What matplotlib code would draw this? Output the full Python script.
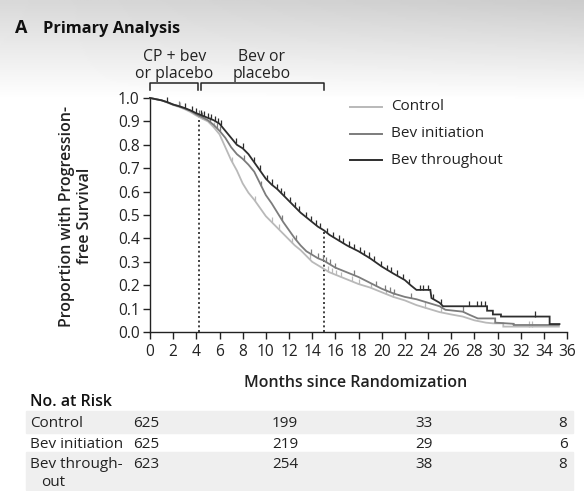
import numpy as np
import matplotlib
matplotlib.use("Agg")
import matplotlib.pyplot as plt
from matplotlib import transforms
from matplotlib.transforms import offset_copy
from matplotlib.lines import Line2D
from matplotlib.patches import Rectangle

# ---------------- data ----------------
groups = ["Control", "Bev initiation", "Bev throughout"]
month_ticks = list(range(0, 37, 2))
y_ticks = [0.0, 0.1, 0.2, 0.3, 0.4, 0.5, 0.6, 0.7, 0.8, 0.9, 1.0]

# Kaplan-Meier curves (repeated time = vertical drop)
control_t = [0, 0.5, 1, 1.5, 2, 2.5, 3, 3.5, 4, 4.5, 5, 5.5, 6, 6.5, 7, 7.5, 8, 8.5, 9, 9.5,
             10, 10.5, 11, 11.5, 12, 12.5, 13, 13.5, 14, 14.5, 15, 15.5, 16, 17, 18, 19, 20,
             21, 22, 23, 24, 25, 26, 27, 28, 29, 29.6, 30.5, 30.5, 35.3]
control_s = [1.0, 0.995, 0.99, 0.98, 0.97, 0.962, 0.952, 0.94, 0.925, 0.912, 0.90, 0.875, 0.845,
             0.79, 0.735, 0.69, 0.635, 0.595, 0.565, 0.53, 0.495, 0.47, 0.445, 0.42, 0.395,
             0.37, 0.35, 0.325, 0.30, 0.285, 0.27, 0.255, 0.245, 0.225, 0.205, 0.19, 0.17,
             0.15, 0.135, 0.115, 0.10, 0.085, 0.075, 0.066, 0.05, 0.04, 0.037, 0.037, 0.023,
             0.023]

initiation_t = [0, 0.5, 1, 1.5, 2, 2.5, 3, 3.5, 4, 4.5, 5, 5.5, 6, 6.5, 7, 7.5, 8, 8.5, 9, 9.5,
                10, 10.5, 11, 11.5, 12, 12.5, 13, 13.5, 14, 14.5, 15, 15.5, 16, 17, 18, 19, 20,
                21, 22, 23, 24, 25, 25.5, 27, 27.6, 28.3, 29.8, 29.8, 31.4, 31.4, 35.3]
initiation_s = [1.0, 0.995, 0.99, 0.982, 0.972, 0.965, 0.955, 0.945, 0.93, 0.918, 0.905, 0.885,
                0.86, 0.83, 0.79, 0.76, 0.74, 0.715, 0.685, 0.635, 0.585, 0.55, 0.51, 0.47,
                0.435, 0.40, 0.37, 0.345, 0.33, 0.315, 0.305, 0.29, 0.275, 0.255, 0.235, 0.21,
                0.185, 0.165, 0.15, 0.14, 0.125, 0.11, 0.095, 0.087, 0.073, 0.058, 0.058, 0.04,
                0.035, 0.03, 0.03]

throughout_t = [0, 0.5, 1, 1.5, 2, 2.5, 3, 3.5, 4, 4.5, 5, 5.5, 6, 6.5, 7, 7.5, 8, 8.5, 9, 9.5,
                10, 10.5, 11, 11.5, 12, 12.5, 13, 13.5, 14, 14.5, 15, 15.5, 16, 17, 18, 19, 20,
                21, 22, 22.5, 23, 24.2, 24.3, 25, 25.3, 29.1, 29.1, 29.6, 29.6, 30.3, 30.3,
                34.5, 34.5, 35.35]
throughout_s = [1.0, 0.995, 0.99, 0.982, 0.972, 0.965, 0.957, 0.947, 0.935, 0.925, 0.915, 0.905,
                0.89, 0.86, 0.83, 0.80, 0.785, 0.76, 0.725, 0.69, 0.655, 0.63, 0.61, 0.585,
                0.56, 0.535, 0.51, 0.49, 0.47, 0.45, 0.435, 0.415, 0.40, 0.37, 0.345, 0.315,
                0.28, 0.25, 0.222, 0.20, 0.18, 0.18, 0.145, 0.125, 0.11, 0.11, 0.091, 0.091,
                0.075, 0.075, 0.066, 0.066, 0.034, 0.034]

control_censor = [2.6, 4.5, 5.5, 7.1, 9.1, 10.5, 11.1, 12.3, 13.8, 15.4, 15.7, 16.1, 16.5,
                  17.4, 18.0, 19.1, 20.4, 21.0, 23.7, 25.1, 32.7, 33.0]
initiation_censor = [2.5, 4.2, 4.5, 5.2, 5.8, 6.0, 8.1, 9.6, 11.4, 12.6, 13.9, 14.5, 14.9,
                     15.2, 15.5, 16.0, 17.6, 19.5, 20.3, 20.7, 21.1, 22.5, 27.0]
throughout_censor = [1.5, 3.0, 3.6, 4.0, 4.4, 4.7, 5.0, 5.3, 5.6, 5.9, 6.1, 7.4, 8.0, 9.0,
                     9.5, 10.1, 10.5, 11.0, 11.3, 11.6, 12.1, 12.5, 12.9, 13.5, 13.9, 14.3,
                     14.7, 15.3, 15.8, 16.3, 16.7, 17.2, 17.6, 18.1, 18.5, 18.9, 19.3, 19.9,
                     20.5, 20.8, 21.3, 21.8, 22.4, 23.3, 23.6, 24.0, 24.4, 25.1, 27.5, 28.2,
                     28.6, 28.9, 33.2]

phase_marks = [4.25, 15.0]          # end of CP + bev phase, end of maintenance phase
phase_labels = ["CP + bev\nor placebo", "Bev or\nplacebo"]

risk_times = [0, 12, 24, 36]
risk_control = [625, 199, 33, 8]
risk_initiation = [625, 219, 29, 6]
risk_throughout = [623, 254, 38, 8]
risk_row_labels = ["Control", "Bev initiation", "Bev through-\n   out"]

# ---------------- style ----------------
FONT = "Open Sans"
plt.rcParams["font.family"] = [FONT, "DejaVu Sans"]
colors = ["#b9b9b9", "#7c7c7c", "#2e2e2e"]
TXT = "#222222"
W, H = 584, 491

def fx(px):
    return px / W

def fy(py):
    return 1 - py / H

fig = plt.figure(figsize=(W / 100, H / 100), dpi=100)

# background gradient (top header band)
bg = fig.add_axes([0, 0, 1, 1], zorder=-10)
yy = np.linspace(0, 1, 200)[:, None]
xx = np.linspace(0, 1, 200)[None, :]
band = np.clip(1 - yy / 0.2, 0, 1)
grad = 1 - band * (0.15 + 0.05 * xx)
bg.imshow(grad, cmap="gray", vmin=0, vmax=1, aspect="auto", extent=[0, 1, 0, 1],
          origin="upper")
bg.set_xlim(0, 1)
bg.set_ylim(0, 1)
bg.axis("off")

# table bands
fig.patches.append(Rectangle((fx(26), fy(433)), fx(573) - fx(26), fy(411) - fy(433),
                             transform=fig.transFigure, color="#efefef", zorder=-5))
fig.patches.append(Rectangle((fx(26), fy(490)), fx(573) - fx(26), fy(452) - fy(490),
                             transform=fig.transFigure, color="#efefef", zorder=-5))

ax = fig.add_axes([fx(150), fy(332), fx(567) - fx(150), fy(98) - fy(332)])
ax.patch.set_alpha(0)

series = [(control_t, control_s, control_censor),
          (initiation_t, initiation_s, initiation_censor),
          (throughout_t, throughout_s, throughout_censor)]
for (t, s, cens), c in zip(series, colors):
    ax.plot(t, s, color=c, lw=1.3, clip_on=False, zorder=3, solid_joinstyle="miter")
    cy = np.interp(cens, t, s)
    ax.vlines(cens, cy, cy + 0.022, color=c, lw=0.9, zorder=3, clip_on=False)

for m in phase_marks:
    top = np.interp(m, throughout_t, throughout_s)
    ax.plot([m, m], [0, top], color=TXT, lw=1.2, ls=(0, (1.2, 1.6)), zorder=2)

ax.set_xlim(0, 36)
ax.set_ylim(0, 1.0)
ax.set_xticks(month_ticks)
ax.set_yticks(y_ticks)
ax.set_yticklabels([f"{v:.1f}" for v in y_ticks])
for sp in ["top", "right"]:
    ax.spines[sp].set_visible(False)
for sp in ["left", "bottom"]:
    ax.spines[sp].set_linewidth(1.0)
    ax.spines[sp].set_color(TXT)
ax.tick_params(direction="out", length=5, width=1.0, colors=TXT, labelsize=11.2, pad=2.5)
ax.tick_params(axis="x", pad=3.5)

# y label
fig.text(fx(76), fy(216), "Proportion with Progression-\nfree Survival", rotation=90,
         ha="center", va="center", multialignment="center", fontsize=11.5,
         fontweight="semibold", color=TXT, linespacing=1.15)
# x label
fig.text(fx(356), fy(383), "Months since Randomization", ha="center", va="center",
         fontsize=11.5, fontweight="semibold", color=TXT)

# title
fig.text(fx(15), fy(33), "A", ha="left", va="baseline", fontsize=13, fontweight="bold",
         color="#111111")
fig.text(fx(43), fy(33), "Primary Analysis", ha="left", va="baseline", fontsize=11.8,
         fontweight="bold", color="#111111")

# phase brackets
bt = transforms.blended_transform_factory(ax.transData, fig.transFigure)
bounds = [(0, phase_marks[0]), (phase_marks[0], phase_marks[1])]
for (a, b), lbl in zip(bounds, phase_labels):
    a2 = a + (0.12 if a > 0 else 0)
    b2 = b - (0.12 if b == phase_marks[0] else 0)
    ax.plot([a2, a2, b2, b2], [fy(90), fy(83), fy(83), fy(90)], transform=bt,
            color=TXT, lw=1.1, clip_on=False)
    ax.text((a + b) / 2, fy(78), lbl, transform=bt, ha="center", va="baseline",
            fontsize=11.3, color=TXT, linespacing=1.1)

# legend (manual)
for i, (g, c) in enumerate(zip(groups, colors)):
    yp = fy(107 + 26.7 * i)
    fig.add_artist(Line2D([fx(350), fx(382)], [yp, yp], transform=fig.transFigure,
                          color=c, lw=1.4))
    fig.text(fx(391), yp, g, ha="left", va="center", fontsize=11, color=TXT)

# number at risk table
fig.text(fx(30), fy(406), "No. at Risk", ha="left", va="baseline", fontsize=11.5,
         fontweight="semibold", color="#111111")
rows = [risk_control, risk_initiation, risk_throughout]
baselines = [427, 448, 468]
nt = offset_copy(bt, fig=fig, x=-4, y=0, units="dots")
for lbl, vals, bl in zip(risk_row_labels, rows, baselines):
    fig.text(fx(30), fy(bl), lbl.split("\n")[0], ha="left", va="baseline", fontsize=11,
             color=TXT)
    if "\n" in lbl:
        fig.text(fx(41), fy(bl + 18), lbl.split("\n")[1].strip(), ha="left",
                 va="baseline", fontsize=11, color=TXT)
    for tm, v in zip(risk_times, vals):
        ax.text(tm, fy(bl), str(v), transform=nt, ha="center", va="baseline",
                fontsize=11, color=TXT, clip_on=False)

fig.savefig("out.png", dpi=100)
